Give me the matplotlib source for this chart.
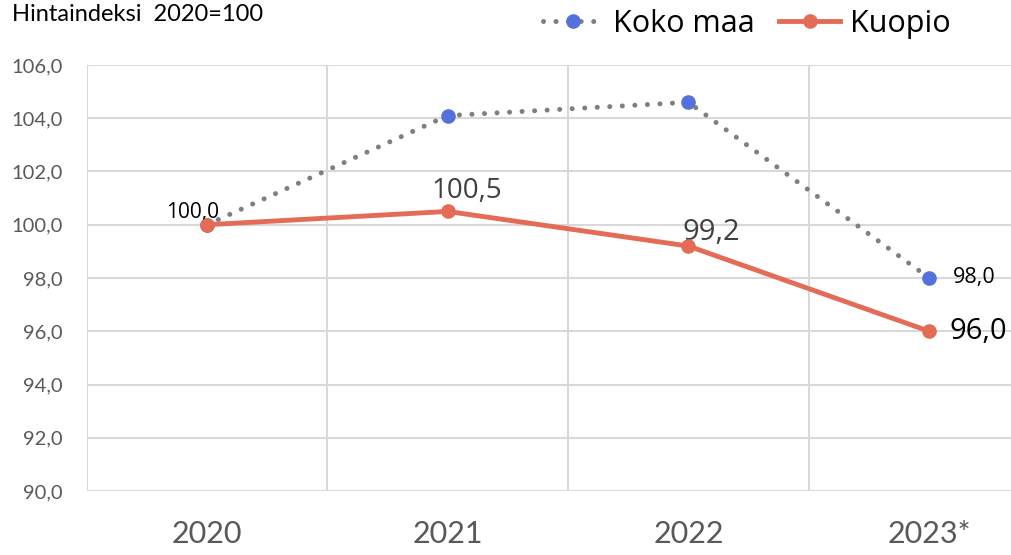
# Hintaindeksi chart: Koko maa vs Kuopio
import numpy as np
import matplotlib.pyplot as plt

# Data
years = ['2020', '2021', '2022', '2023*']
koko_maa = [100.0, 104.1, 104.6, 98.0]
kuopio = [100.0, 100.5, 99.2, 96.0]
y_ticks = [90, 92, 94, 96, 98, 100, 102, 104, 106]

plt.rcParams['font.family'] = ['Open Sans', 'DejaVu Sans']

fig = plt.figure(figsize=(10.11, 5.55), dpi=100)
ax = fig.add_axes([0.0856, 0.1153, 0.9525, 0.7676])

x = np.arange(len(years))
grid_col = '#D9D9D9'

# Lines
ax.plot(x, koko_maa, color='#7F7F7F', linestyle=(0, (0.01, 2.5)), linewidth=3.6,
        dash_capstyle='round', marker='o', markersize=9.5, markerfacecolor='#5470DC',
        markeredgecolor='#5470DC', label='Koko maa', zorder=3)
ax.plot(x, kuopio, color='#E46C56', linewidth=3.5, marker='o', markersize=9.5,
        markerfacecolor='#E46C56', markeredgecolor='#E46C56', label='Kuopio', zorder=4)

# Axes
ax.set_xlim(-0.5, 3.5)
ax.set_ylim(90, 106)
ax.set_yticks(y_ticks)
ax.set_yticklabels([f'{v:.1f}'.replace('.', ',') for v in y_ticks],
                   fontsize=14.5, color='#595959', family=['Lato', 'DejaVu Sans'])
ax.set_xticks(x)
ax.set_xticklabels(years, fontsize=22, color='#595959', family=['Lato', 'DejaVu Sans'])
ax.tick_params(axis='both', length=0)
ax.tick_params(axis='x', pad=21)
ax.tick_params(axis='y', pad=17)

for s in ax.spines.values():
    s.set_visible(False)
ax.grid(axis='y', color=grid_col, linewidth=1.5, zorder=0)
ax.set_axisbelow(True)
for b in [-0.5, 0.5, 1.5, 2.5]:
    ax.axvline(b, color=grid_col, linewidth=1.5, zorder=0)
ax.axhline(90, color=grid_col, linewidth=2, zorder=1)

# Data labels
def fmt(v):
    return f'{v:.1f}'.replace('.', ',')

ax.annotate(fmt(koko_maa[0]), (x[0], koko_maa[0]), xytext=(-10, 5), textcoords='offset points',
            ha='center', va='baseline', fontsize=15, color='black')
ax.annotate(fmt(koko_maa[3]), (x[3], koko_maa[3]), xytext=(17, 0), textcoords='offset points',
            ha='left', va='center', fontsize=15.5, color='black')
ax.annotate(fmt(kuopio[1]), (x[1], kuopio[1]), xytext=(14, 10), textcoords='offset points',
            ha='center', va='baseline', fontsize=20, color='#404040')
ax.annotate(fmt(kuopio[2]), (x[2], kuopio[2]), xytext=(-4, 4), textcoords='offset points',
            ha='left', va='baseline', fontsize=21, color='#404040')
ax.annotate(fmt(kuopio[3]), (x[3], kuopio[3]), xytext=(15, 0), textcoords='offset points',
            ha='left', va='center', fontsize=21, color='black')

# Title and legend
fig.text(0.012, 0.962, 'Hintaindeksi  2020=100', fontsize=17, ha='left', va='baseline',
         family=['Lato', 'DejaVu Sans'])
fig.legend(loc='upper right', bbox_to_anchor=(0.967, 1.033), ncol=2, frameon=False,
           fontsize=22, handlelength=2.0, handletextpad=0.3, columnspacing=0.8)

plt.savefig('out.png', dpi=100)
